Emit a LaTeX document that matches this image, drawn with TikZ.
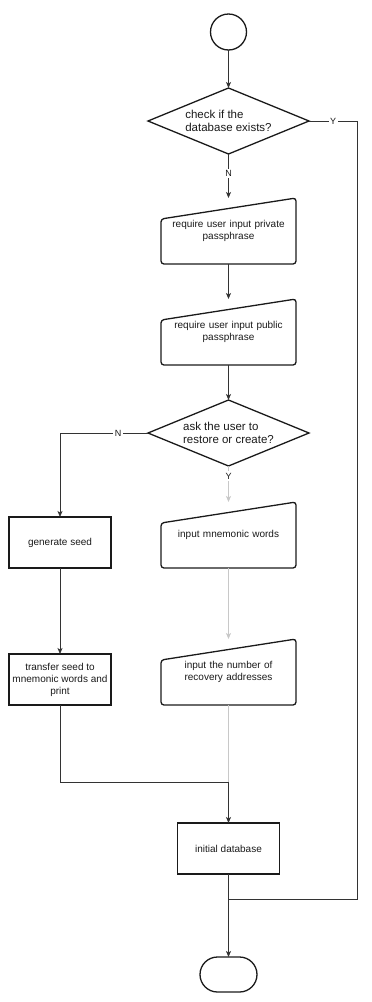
\documentclass[tikz,border=0pt]{standalone}
\usepackage{fontspec}
\setmainfont{Liberation Sans}
\usetikzlibrary{arrows.meta, positioning, shapes.geometric}
\definecolor{ink}{HTML}{1A1A1A}
\definecolor{wire}{HTML}{333333}
\definecolor{faint}{HTML}{C8C8C8}

\begin{document}
\begin{tikzpicture}[x=1pt, y=-1pt,
    font=\fontsize{10}{12}\selectfont, text=ink,
    every node/.style={outer sep=0pt, inner sep=0pt},
    term/.style={draw=ink, line width=1.3pt, circle, minimum size=36pt},
    finish/.style={draw=ink, line width=1.3pt, rounded corners=17.5pt, minimum width=57pt, minimum height=35pt},
    dtext/.style={align=left, font=\fontsize{11.5}{12.5}\selectfont},
    dec/.style={draw=ink, line width=1.3pt, diamond, minimum width=161pt, minimum height=66pt, label={[dtext]center:#1}},
    box/.style={draw=ink, line width=1.3pt, minimum width=102pt, minimum height=51pt, align=center},
    manline/.style={draw=ink, line width=1.3pt, rounded corners=3pt},
    inp/.style={minimum width=135pt, minimum height=66pt, text width=125pt, align=center,
      append after command={\pgfextra{\begin{pgfinterruptpath}
        \draw[manline] ([yshift=-21pt]\tikzlastnode.north west) -- (\tikzlastnode.north east)
          -- (\tikzlastnode.south east) -- (\tikzlastnode.south west) -- cycle;
        \end{pgfinterruptpath}}}},
    ln/.style={wire, line width=0.8pt},
    ar/.style={ln, -{Stealth[length=6pt, width=5pt, inset=1.5pt]}},
    lbl/.style={fill=white, text=ink, inner sep=1.5pt, font=\fontsize{9}{9}\selectfont}
  ]
    \useasboundingbox (0,0) rectangle (372,1002);

    % main column
    \node[term] (start) at (228.5,32) {};
    \node[dec={check if the\\database exists?}, below=38pt of start] (chk) {};
    \node[inp, below=44pt of chk] (priv) {require user input private\\passphrase};
    \node[inp, below=35pt of priv] (pub) {require user input public\\passphrase};
    \node[dec={ask the user to\\restore or create?}, below=35pt of pub,
      dtext/.append style={font=\fontsize{13}{14}\selectfont, xshift=4pt}] (mode) {};
    \node[inp, below=36pt of mode] (words) {input mnemonic words};
    \node[inp, below=71pt of words] (count) {input the number of\\recovery addresses};
    \node[box, below=118pt of count] (init) {initial database};
    \node[finish, below=83pt of init] (end) {};

    % left branch
    \node[box] (seed) at (60,542.5) {generate seed};
    \node[box, below=86pt of seed] (xfer) {transfer seed to\\mnemonic words and\\print};

    \coordinate (merge) at (228.5,782);
    \coordinate (join) at (228.5,899);

    \draw[ar] (start) -- (chk);
    \draw[ar] (chk) -- node[lbl, pos=0.45]{N} (priv);
    \draw[ln] (chk.east) -- node[lbl]{Y} ++(48,0) |- (join);
    \draw[ar] (priv) -- (pub);
    \draw[ar] (pub) -- (mode);
    \draw[ar] (mode.west) -- node[lbl, pos=0.34]{N} (mode.west -| seed) -- (seed);
    \draw[ar, faint] (mode) -- node[lbl, pos=0.28]{Y} (words);
    \draw[ar, faint] (words) -- (count);
    \draw[ln, faint] (count) -- (merge);
    \draw[ar] (seed) -- (xfer);
    \draw[ar] (xfer) |- (merge) -- (init);
    \draw[ar] (init) -- (end);
  \end{tikzpicture}
\end{document}
